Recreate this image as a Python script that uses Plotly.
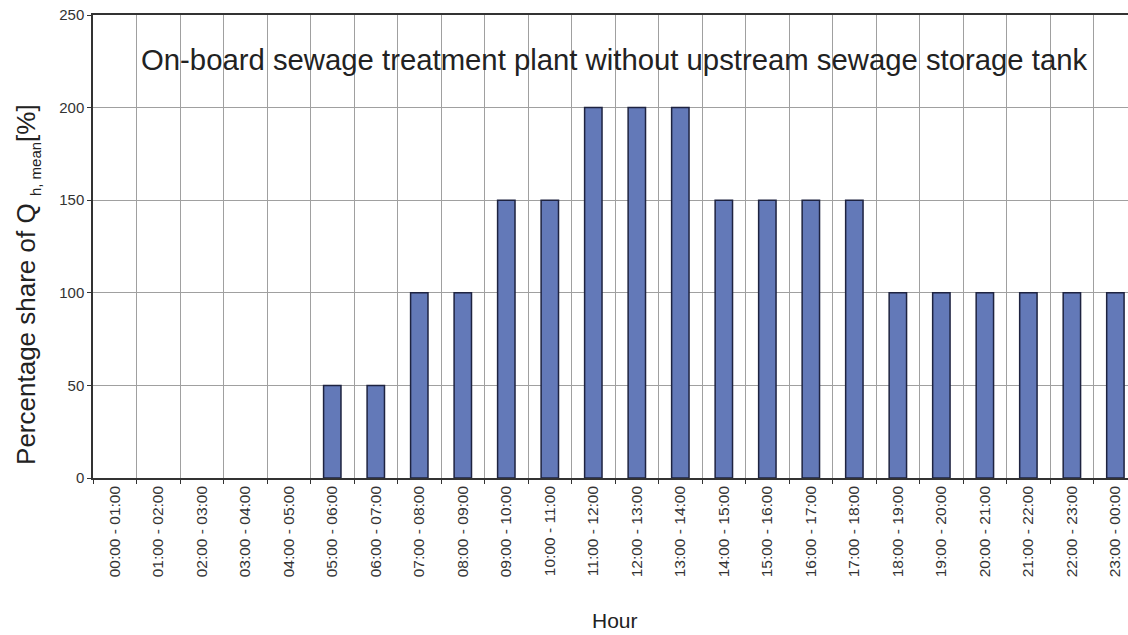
import plotly.graph_objects as go

hours = ["00:00 - 01:00", "01:00 - 02:00", "02:00 - 03:00", "03:00 - 04:00",
         "04:00 - 05:00", "05:00 - 06:00", "06:00 - 07:00", "07:00 - 08:00",
         "08:00 - 09:00", "09:00 - 10:00", "10:00 - 11:00", "11:00 - 12:00",
         "12:00 - 13:00", "13:00 - 14:00", "14:00 - 15:00", "15:00 - 16:00",
         "16:00 - 17:00", "17:00 - 18:00", "18:00 - 19:00", "19:00 - 20:00",
         "20:00 - 21:00", "21:00 - 22:00", "22:00 - 23:00", "23:00 - 00:00"]
share = [0, 0, 0, 0, 0, 50, 50, 100, 100, 150, 150, 200,
         200, 200, 150, 150, 150, 150, 100, 100, 100, 100, 100, 100]
y_ticks = [0, 50, 100, 150, 200, 250]

title_text = "On-board sewage treatment plant without upstream sewage storage tank"
y_title = "Percentage share of Q <sub><span style='font-size:15px'>h, mean</span></sub>[%]"
x_title = "Hour"

FONT = "Liberation Sans, Arial, sans-serif"

fig = go.Figure()
fig.add_trace(go.Bar(
    x=hours, y=share, width=0.4,
    marker=dict(color="#6379B8",
                line=dict(color="#1E2340",
                          width=[1.5 if v > 0 else 0 for v in share])),
))

fig.add_shape(type="rect", xref="paper", yref="paper",
              x0=0.007, x1=1.0, y0=0.857, y1=0.957,
              fillcolor="white", line=dict(width=0), layer="between")
fig.add_annotation(text=title_text, xref="paper", yref="paper",
                   x=0.504, y=0.903, xanchor="center", yanchor="middle",
                   showarrow=False,
                   font=dict(family=FONT, size=29.3, color="#222"))
fig.add_annotation(text=y_title, xref="paper", yref="paper",
                   x=0, xshift=-66, y=0.417, xanchor="center", yanchor="middle",
                   textangle=-90, showarrow=False,
                   font=dict(family=FONT, size=26, color="#222"))
fig.add_annotation(text=x_title, xref="paper", yref="paper",
                   x=0.504, y=-0.307, xanchor="center", yanchor="middle",
                   showarrow=False,
                   font=dict(family=FONT, size=21, color="#222"))

fig.update_layout(
    width=1128, height=635,
    margin=dict(l=93, r=0, t=15, b=157),
    paper_bgcolor="white", plot_bgcolor="white",
    showlegend=False,
    font=dict(family=FONT, color="#333"),
)
fig.update_xaxes(
    type="category", range=[-0.5, 23.29], automargin=False,
    tickson="boundaries", ticks="outside", ticklen=4, tickcolor="#333",
    showgrid=True, gridcolor="#A0A0A0", gridwidth=1,
    showline=True, linecolor="#333", linewidth=1.5, mirror=True,
    tickangle=-90, tickfont=dict(size=15.5, color="#333"),
)
fig.update_yaxes(
    range=[0, 250], tickvals=y_ticks, automargin=False,
    ticks="outside", ticklen=4, tickcolor="#333",
    showgrid=True, gridcolor="#A0A0A0", gridwidth=1,
    showline=True, linecolor="#333", linewidth=1.5, zeroline=False,
    tickfont=dict(size=15, color="#333"),
)

fig.write_html("out.html", config={"displayModeBar": False},
               post_script="document.body.style.margin='0';document.body.style.overflow='hidden';")
